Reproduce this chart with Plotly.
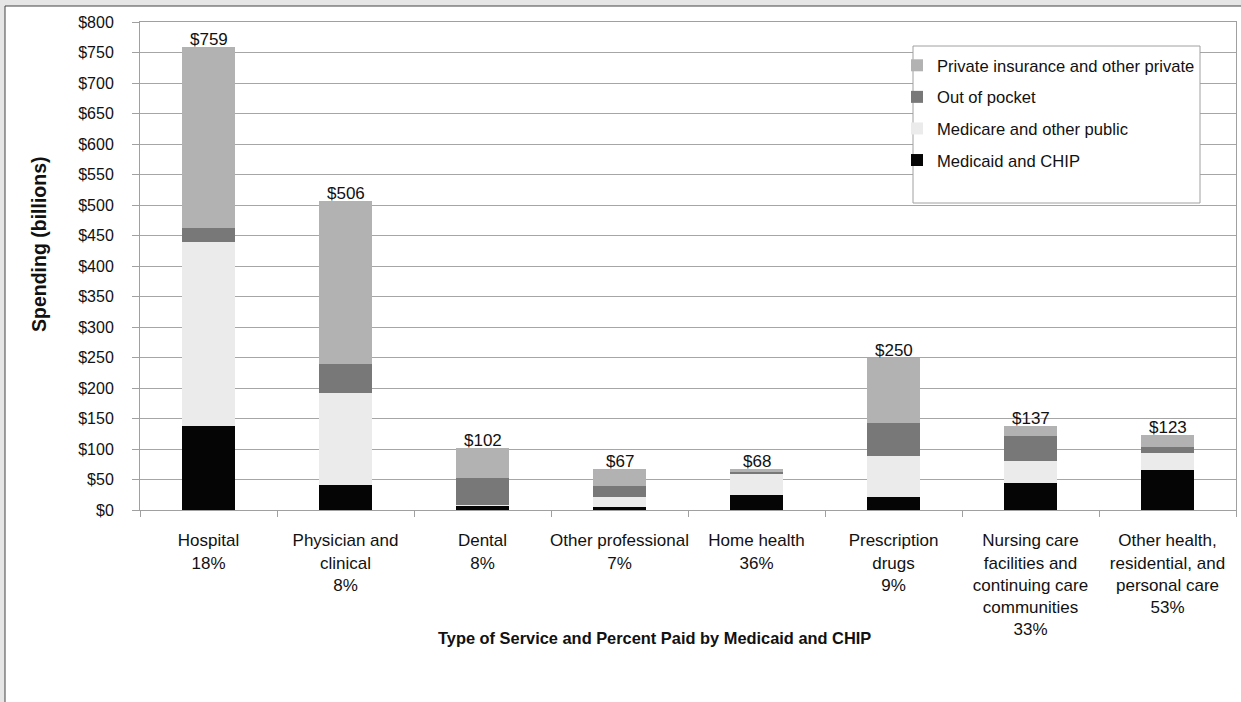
import plotly.graph_objects as go

categories = ["Hospital", "Physician and<br>clinical", "Dental", "Other professional",
              "Home health", "Prescription<br>drugs",
              "Nursing care<br>facilities and<br>continuing care<br>communities",
              "Other health,<br>residential, and<br>personal care"]
pct_medicaid = ["18%", "8%", "8%", "7%", "36%", "9%", "33%", "53%"]
totals = [759, 506, 102, 67, 68, 250, 137, 123]

medicaid_chip = [137, 41, 8, 5, 24, 22, 45, 65]
medicare_public = [302, 150, 1, 17, 35, 67, 36, 29]
out_of_pocket = [23, 49, 43, 17, 4, 53, 41, 9]
private_ins = [297, 266, 50, 28, 5, 108, 15, 20]

series = [
    ("Medicaid and CHIP", medicaid_chip, "#050505", 4),
    ("Medicare and other public", medicare_public, "#ebebeb", 3),
    ("Out of pocket", out_of_pocket, "#787878", 2),
    ("Private insurance and other private", private_ins, "#b2b2b2", 1),
]

labels = [f"{c}<br>{p}" for c, p in zip(categories, pct_medicaid)]

FONT = "Liberation Sans, Arial, sans-serif"

W, H = 1241, 702
L, R, T, B = 140, 5, 22, 192
pw, ph = W - L - R, H - T - B

def px(xp):
    return (xp - L) / pw

def py(yp):
    return (H - B - yp) / ph

fig = go.Figure()
for name, vals, col, rank in series:
    fig.add_trace(go.Bar(
        x=labels, y=vals, name=name, legendgroup=name, legendrank=rank,
        marker=dict(color=col, line=dict(width=0)),
        hoverinfo="x+y+name",
    ))

for lab, tot in zip(labels, totals):
    fig.add_annotation(x=lab, y=tot, xref="x", yref="y", text=f"${tot}",
                       showarrow=False, yanchor="bottom", yshift=-4,
                       font=dict(family=FONT, size=17, color="#111"))

# outer white panel with dark border
fig.add_shape(type="rect", xref="paper", yref="paper", layer="below",
              x0=px(5), x1=px(1300), y0=py(760), y1=py(6),
              fillcolor="white", line=dict(color="#444", width=1))
# legend box
fig.add_shape(type="rect", xref="paper", yref="paper", layer="above",
              x0=px(913), x1=px(1200), y0=py(203), y1=py(46),
              fillcolor="white", line=dict(color="#a0a0a0", width=1))

# x axis title
fig.add_annotation(x=px(654), y=py(638), xref="paper", yref="paper",
                   text="<b>Type of Service and Percent Paid by Medicaid and CHIP</b>",
                   showarrow=False, xanchor="center", yanchor="middle",
                   font=dict(family=FONT, size=16.4, color="#111"))
# y axis title
fig.add_annotation(x=px(39), y=py(245), xref="paper", yref="paper",
                   text="<b>Spending (billions)</b>", textangle=-90,
                   showarrow=False, xanchor="center", yanchor="middle",
                   font=dict(family=FONT, size=19.5, color="#111"))

fig.update_layout(
    width=W, height=H,
    margin=dict(l=L, r=R, t=T, b=B, pad=0, autoexpand=False),
    barmode="stack", bargap=0.61,
    paper_bgcolor="#e6e6e6", plot_bgcolor="white",
    font=dict(family=FONT, size=16, color="#111"),
    showlegend=True,
    legend=dict(x=px(897), y=py(48), xanchor="left", yanchor="top",
                bgcolor="rgba(0,0,0,0)", borderwidth=0,
                traceorder="grouped", tracegroupgap=7,
                font=dict(family=FONT, size=16.6, color="#111")),
    xaxis=dict(showgrid=False, showline=True, linecolor="#a0a0a0", linewidth=1,
               ticks="outside", tickson="boundaries", ticklen=6, tickcolor="#a0a0a0",
               ticklabelstandoff=15, mirror=True, tickangle=0, automargin=False,
               tickfont=dict(family=FONT, size=17, color="#111")),
    yaxis=dict(range=[0, 800], dtick=50, tickprefix="$", showgrid=True,
               gridcolor="#a6a6a6", gridwidth=1, zeroline=False,
               showline=True, linecolor="#a0a0a0", linewidth=1, mirror=True,
               ticks="outside", ticklen=7, tickcolor="#a0a0a0", automargin=False,
               ticklabelstandoff=15,
               tickfont=dict(family=FONT, size=16, color="#111")),
)

fig.write_html("out.html", config={"displayModeBar": False},
               post_script="document.body.style.margin='0';"
                           "document.body.style.background='#e6e6e6';")
